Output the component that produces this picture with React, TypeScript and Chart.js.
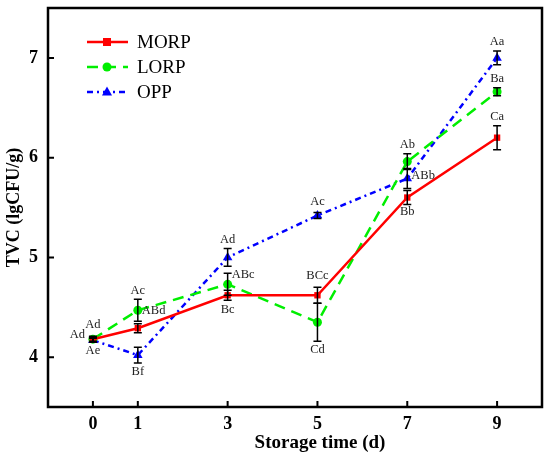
import { useEffect, useRef } from 'react';
import Chart from 'chart.js/auto';

// storage days and y axis ticks
const days = [0, 1, 3, 5, 7, 9];
const yTicks = [4, 5, 6, 7];

// TVC means (lgCFU/g) and error bars
const morp = [4.18, 4.29, 4.62, 4.62, 5.6, 6.2];
const morpErr = [0.03, 0.045, 0.05, 0.08, 0.07, 0.12];
const lorp = [4.18, 4.47, 4.73, 4.35, 5.96, 6.66];
const lorpErr = [0.02, 0.11, 0.11, 0.19, 0.08, 0.04];
const opp = [4.17, 4.02, 5.0, 5.42, 5.79, 7.0];
const oppErr = [0.02, 0.08, 0.09, 0.03, 0.1, 0.07];

// significance letters
const morpMarks = ['Ad', 'ABd', 'Bc', 'BCc', 'Bb', 'Ca'];
const lorpMarks = ['Ad', 'Ac', 'ABc', 'Cd', 'Ab', 'Ba'];
const oppMarks = ['Ae', 'Bf', 'Ad', 'Ac', 'ABb', 'Aa'];

type Place = { at: 'a' | 'b' | 'l' | 'r'; dy?: number };

const morpPlace: Place[] = [{ at: 'l', dy: -4 }, { at: 'r', dy: -17 }, { at: 'b' }, { at: 'a', dy: -3 }, { at: 'b', dy: -2 }, { at: 'a' }];
const lorpPlace: Place[] = [{ at: 'a', dy: -3 }, { at: 'a' }, { at: 'r', dy: -10 }, { at: 'b' }, { at: 'a' }, { at: 'a' }];
const oppPlace: Place[] = [{ at: 'b' }, { at: 'b' }, { at: 'a' }, { at: 'a', dy: -2 }, { at: 'r', dy: -3 }, { at: 'a' }];

const SERIES = [
  { label: 'MORP', values: morp, errors: morpErr, marks: morpMarks, place: morpPlace, color: '#ff0000', dash: [] as number[], point: 'rect' },
  { label: 'LORP', values: lorp, errors: lorpErr, marks: lorpMarks, place: lorpPlace, color: '#00ee00', dash: [11, 7], point: 'circle' },
  { label: 'OPP', values: opp, errors: oppErr, marks: oppMarks, place: oppPlace, color: '#0000ff', dash: [6, 4, 2, 4], point: 'triangle' },
];

const SERIF = '"Liberation Serif", "Times New Roman", serif';

function drawMarker(ctx: CanvasRenderingContext2D, kind: string, x: number, y: number, color: string) {
  ctx.save();
  ctx.fillStyle = color;
  ctx.setLineDash([]);
  ctx.beginPath();
  if (kind === 'rect') {
    ctx.rect(x - 4, y - 4, 8, 8);
  } else if (kind === 'circle') {
    ctx.arc(x, y, 4.5, 0, Math.PI * 2);
  } else {
    ctx.moveTo(x, y - 5.5);
    ctx.lineTo(x + 5, y + 3.5);
    ctx.lineTo(x - 5, y + 3.5);
    ctx.closePath();
  }
  ctx.fill();
  ctx.restore();
}

const extrasPlugin = {
  id: 'extras',
  afterDatasetsDraw(chart: any) {
    const { ctx, scales, chartArea } = chart;
    const xs = scales.x;
    const ys = scales.y;

    // error bars
    ctx.save();
    ctx.strokeStyle = '#000';
    ctx.lineWidth = 1.5;
    SERIES.forEach((s) => {
      s.values.forEach((v, i) => {
        const px = xs.getPixelForValue(days[i]);
        const top = ys.getPixelForValue(v + s.errors[i]);
        const bot = ys.getPixelForValue(v - s.errors[i]);
        ctx.beginPath();
        ctx.moveTo(px, top);
        ctx.lineTo(px, bot);
        ctx.moveTo(px - 4, top);
        ctx.lineTo(px + 4, top);
        ctx.moveTo(px - 4, bot);
        ctx.lineTo(px + 4, bot);
        ctx.stroke();
      });
    });
    ctx.restore();

    // letters
    ctx.save();
    ctx.font = `12.5px ${SERIF}`;
    ctx.fillStyle = '#222';
    ctx.textBaseline = 'middle';
    SERIES.forEach((s) => {
      s.values.forEach((v, i) => {
        const p = s.place[i];
        const px = xs.getPixelForValue(days[i]);
        const py = ys.getPixelForValue(v);
        const top = ys.getPixelForValue(v + s.errors[i]);
        const bot = ys.getPixelForValue(v - s.errors[i]);
        const dy = p.dy ?? 0;
        if (p.at === 'a') {
          ctx.textAlign = 'center';
          ctx.fillText(s.marks[i], px, top - 9 + dy);
        } else if (p.at === 'b') {
          ctx.textAlign = 'center';
          ctx.fillText(s.marks[i], px, bot + 9 + dy);
        } else if (p.at === 'l') {
          ctx.textAlign = 'right';
          ctx.fillText(s.marks[i], px - 8, py + dy);
        } else {
          ctx.textAlign = 'left';
          ctx.fillText(s.marks[i], px + 4, py + dy);
        }
      });
    });
    ctx.restore();

    // frame and inward ticks
    ctx.save();
    ctx.strokeStyle = '#000';
    ctx.lineWidth = 2.5;
    ctx.strokeRect(chartArea.left, chartArea.top, chartArea.right - chartArea.left, chartArea.bottom - chartArea.top);
    ctx.lineWidth = 2;
    ctx.beginPath();
    days.forEach((d) => {
      const px = xs.getPixelForValue(d);
      ctx.moveTo(px, chartArea.bottom);
      ctx.lineTo(px, chartArea.bottom - 6);
    });
    yTicks.forEach((t) => {
      const py = ys.getPixelForValue(t);
      ctx.moveTo(chartArea.left, py);
      ctx.lineTo(chartArea.left + 6, py);
    });
    ctx.stroke();
    ctx.restore();

    // x axis title (sits right of centre in the original)
    ctx.save();
    ctx.font = `bold 19px ${SERIF}`;
    ctx.fillStyle = '#000';
    ctx.textAlign = 'center';
    ctx.textBaseline = 'middle';
    ctx.fillText('Storage time (d)', 320, 443);
    ctx.restore();

    // legend
    ctx.save();
    SERIES.forEach((s, i) => {
      const y = chartArea.top + 34 + i * 25;
      const x0 = chartArea.left + 39;
      ctx.strokeStyle = s.color;
      ctx.lineWidth = 2.5;
      ctx.setLineDash(s.dash);
      ctx.beginPath();
      ctx.moveTo(x0, y);
      ctx.lineTo(x0 + 41, y);
      ctx.stroke();
      drawMarker(ctx, s.point, x0 + 20, y, s.color);
      ctx.font = `19px ${SERIF}`;
      ctx.fillStyle = '#000';
      ctx.textAlign = 'left';
      ctx.textBaseline = 'middle';
      ctx.fillText(s.label, x0 + 50, y + 1);
    });
    ctx.restore();
  },
};

export default function App() {
  const canvasRef = useRef<HTMLCanvasElement>(null);
  const chartRef = useRef<Chart | null>(null);

  useEffect(() => {
    if (!canvasRef.current) return;
    if (chartRef.current) chartRef.current.destroy();

    chartRef.current = new Chart(canvasRef.current, {
      type: 'line',
      data: {
        datasets: SERIES.map((s) => ({
          label: s.label,
          data: s.values.map((v, i) => ({ x: days[i], y: v })),
          borderColor: s.color,
          backgroundColor: s.color,
          borderWidth: 2.5,
          borderDash: s.dash,
          pointStyle: s.point as any,
          pointRadius: s.point === 'triangle' ? 5.5 : 4.5,
          pointBorderWidth: 0,
          tension: 0,
        })),
      },
      options: {
        animation: false,
        responsive: true,
        maintainAspectRatio: false,
        layout: { padding: { top: 8, right: 8, left: 0, bottom: 0 } },
        plugins: {
          legend: { display: false },
          tooltip: { enabled: false },
        },
        scales: {
          x: {
            type: 'linear',
            min: -1,
            max: 10,
            afterBuildTicks: (scale: any) => {
              scale.ticks = days.map((d) => ({ value: d }));
            },
            afterFit: (scale: any) => {
              scale.height = 55;
              scale.paddingLeft = 0;
              scale.paddingRight = 0;
            },
            grid: { display: false, drawTicks: false },
            border: { display: false },
            ticks: {
              padding: 7,
              color: '#000',
              font: { family: SERIF, size: 18, weight: 'bold' },
            },
          },
          y: {
            min: 3.5,
            max: 7.5,
            afterBuildTicks: (scale: any) => {
              scale.ticks = yTicks.map((t) => ({ value: t }));
            },
            afterFit: (scale: any) => {
              scale.width = 48;
              scale.paddingTop = 0;
              scale.paddingBottom = 0;
            },
            grid: { display: false, drawTicks: false },
            border: { display: false },
            ticks: {
              padding: 10,
              color: '#000',
              font: { family: SERIF, size: 18, weight: 'bold' },
            },
            title: {
              display: true,
              text: 'TVC (lgCFU/g)',
              color: '#000',
              padding: { top: 4, bottom: 4 },
              font: { family: SERIF, size: 18, weight: 'bold' },
            },
          },
        },
      },
      plugins: [extrasPlugin],
    });

    return () => {
      if (chartRef.current) {
        chartRef.current.destroy();
        chartRef.current = null;
      }
    };
  }, []);

  return (
    <div style={{ position: 'fixed', left: 0, top: 0, width: 550, height: 462, background: '#fff' }}>
      <canvas ref={canvasRef} />
    </div>
  );
}
